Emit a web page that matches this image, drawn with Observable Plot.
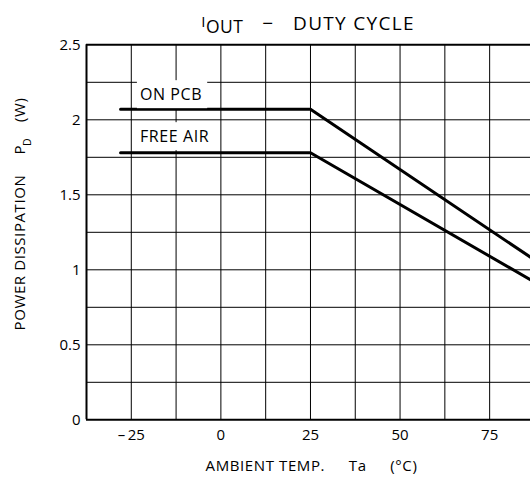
<!DOCTYPE html>
<html>
<head>
<meta charset="utf-8">
<script src="https://cdn.jsdelivr.net/npm/d3@7"></script>
<script src="https://cdn.jsdelivr.net/npm/@observablehq/plot@0.6"></script>
<style>
  body { margin: 0; background: #fff; font-family: "Open Sans", sans-serif; color: #000; }
  #title { height: 34px; box-sizing: border-box; padding-top: 14px; padding-left: 86px; width: 530px;
           text-align: center; font-size: 19px; line-height: 19px; white-space: pre; letter-spacing: 1.3px; }
  #title .i { font-size: 15px; position: relative; top: -3.4px; letter-spacing: 0.5px; }
  #title .sub { font-size: 17.5px; position: relative; top: 3px; letter-spacing: 0.5px; }
</style>
</head>
<body>
<div id="title"><span class="i">I</span><span class="sub">OUT</span>   −   DUTY CYCLE</div>
<div id="chart"></div>
<script>
// ---- data ----
const xDomain = [-37.5, 86.4];
const yDomain = [0, 2.5];
const temps = [-28, 25, 87.5];          // ambient temperature (°C)
const onPcb = [2.07, 2.07, 1.066];      // W
const freeAir = [1.78, 1.78, 0.918];    // W
const seriesNames = ["ON PCB", "FREE AIR"];
const labelTemp = [-22.6, -22.6];
const labelPower = [2.165, 1.885];
const xTicks = [-25, 0, 25, 50, 75];
const yTicks = [0, 0.5, 1, 1.5, 2, 2.5];
const xGrid = [-25, -12.5, 0, 12.5, 25, 37.5, 50, 62.5, 75];
const yGrid = [0.25, 0.5, 0.75, 1, 1.25, 1.5, 1.75, 2, 2.25];
const xLabel = "AMBIENT TEMP.\u2003\u2002Ta\u2003\u2002(°C)";

const rows = [];
temps.forEach((t, i) => {
  rows.push({series: seriesNames[0], t, p: onPcb[i]});
  rows.push({series: seriesNames[1], t, p: freeAir[i]});
});
const labels = seriesNames.map((s, i) => ({s, t: labelTemp[i], p: labelPower[i]}));

const plot = Plot.plot({
  width: 530,
  height: 446,
  marginTop: 10.3,
  marginBottom: 60.7,
  marginLeft: 86,
  marginRight: 0,
  style: {fontFamily: "'Open Sans', sans-serif", fontSize: "15px", color: "#000", background: "#fff", overflow: "visible"},
  x: {domain: xDomain, ticks: xTicks, tickSize: 0, tickPadding: 10,
      tickFormat: d => d < 0 ? "\u2013\u2009" + Math.abs(d) : String(d), label: null},
  y: {domain: yDomain, ticks: yTicks, tickSize: 0, tickPadding: 6,
      tickFormat: d => String(d), label: null},
  marks: [
    Plot.ruleX(xGrid, {stroke: "#000", strokeWidth: 1}),
    Plot.ruleY(yGrid, {stroke: "#000", strokeWidth: 1}),
    Plot.ruleX([xDomain[0]], {stroke: "#000", strokeWidth: 2}),
    Plot.ruleY(yDomain, {stroke: "#000", strokeWidth: 2}),
    Plot.line(rows, {x: "t", y: "p", z: "series", stroke: "#000", strokeWidth: 3, clip: true}),
    Plot.text(labels, {x: "t", y: "p", text: "s", textAnchor: "start", fontSize: 16, fill: "#000"}),
    Plot.text([xLabel], {frameAnchor: "bottom", dy: 51, dx: 3, fontSize: 15, fill: "#000"})
  ]
});

document.getElementById("chart").appendChild(plot);
const svg = d3.select(plot);

// slightly wider letter spacing for the chart's labels, as in the reference
svg.selectAll("text").filter(function() {
  return seriesNames.includes(this.textContent) || this.textContent === xLabel;
}).style("letter-spacing", "0.6px");

// y-axis title with subscript
const yl = svg.append("text")
  .attr("transform", "translate(25,180) rotate(-90)")
  .attr("text-anchor", "middle")
  .attr("fill", "#000")
  .style("font-size", "15px")
  .style("letter-spacing", "0.6px");
yl.append("tspan").text("POWER DISSIPATION\u2003 P");
yl.append("tspan").attr("font-size", 10.5).attr("dy", 6).attr("dx", -1).text("D");
yl.append("tspan").attr("dy", -6).text("\u2003(W)");

// white boxes behind the series labels
svg.selectAll("text")
  .filter(function() { return seriesNames.includes(this.textContent); })
  .each(function() {
    const b = this.getBBox();
    const r = document.createElementNS("http://www.w3.org/2000/svg", "rect");
    r.setAttribute("x", b.x - 3);
    r.setAttribute("y", b.y - 3);
    r.setAttribute("width", b.width + 8);
    r.setAttribute("height", b.height + 6);
    r.setAttribute("fill", "#fff");
    const tr = this.getAttribute("transform");
    if (tr) r.setAttribute("transform", tr);
    this.parentNode.insertBefore(r, this);
  });
</script>
</body>
</html>
